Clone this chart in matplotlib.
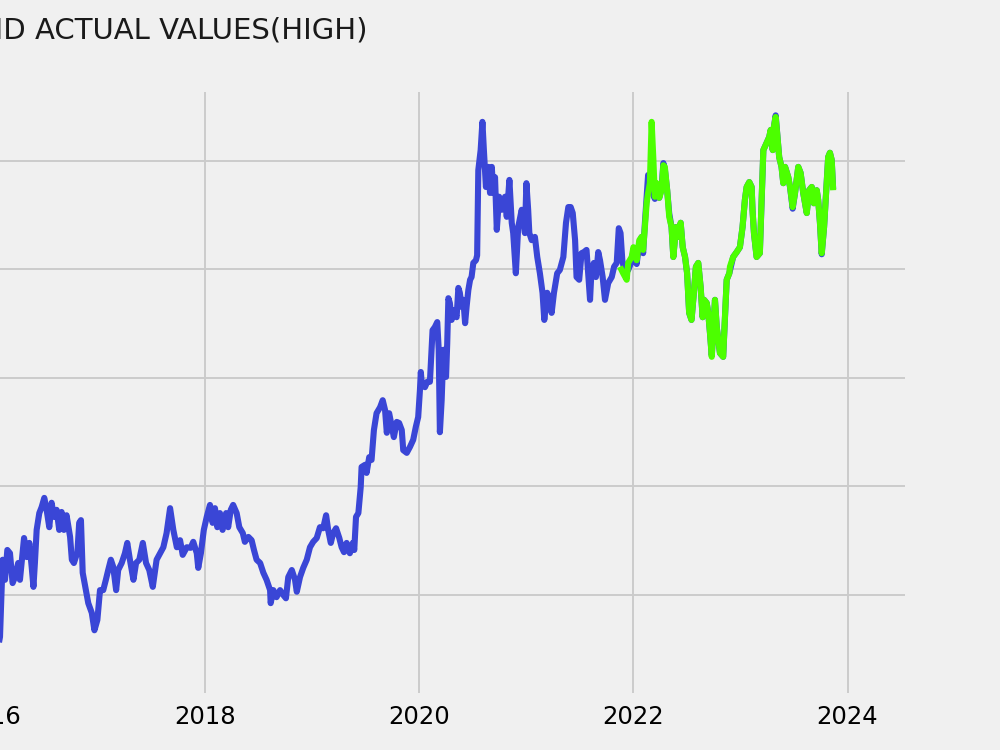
import matplotlib
matplotlib.use("Agg")
import matplotlib.pyplot as plt
import matplotlib.dates as mdates
from matplotlib.ticker import MultipleLocator
import pandas as pd

# ---------------- data ----------------
actual_dates = [
    "2016-01-26", "2016-02-02", "2016-02-11", "2016-02-19", "2016-02-27", "2016-03-07", "2016-03-16", "2016-03-24",
    "2016-04-04", "2016-04-10", "2016-04-24", "2016-05-03", "2016-05-12", "2016-05-20", "2016-05-26", "2016-05-31",
    "2016-06-06", "2016-06-15", "2016-06-23", "2016-07-02", "2016-07-10", "2016-07-19", "2016-07-27", "2016-08-04",
    "2016-08-13", "2016-08-22", "2016-08-30", "2016-09-07", "2016-09-16", "2016-09-28", "2016-10-04", "2016-10-11",
    "2016-10-23", "2016-10-29", "2016-11-04", "2016-11-10", "2016-11-21", "2016-11-29", "2016-12-11", "2016-12-20",
    "2016-12-30", "2017-01-08", "2017-01-19", "2017-01-28", "2017-02-05", "2017-02-14", "2017-02-22", "2017-03-04",
    "2017-03-11", "2017-03-23", "2017-04-03", "2017-04-11", "2017-04-20", "2017-05-02", "2017-05-11", "2017-05-22",
    "2017-06-03", "2017-06-14", "2017-06-25", "2017-07-07", "2017-07-20", "2017-08-01", "2017-08-12", "2017-08-23",
    "2017-09-04", "2017-09-15", "2017-09-27", "2017-10-08", "2017-10-17", "2017-10-31", "2017-11-13", "2017-11-22",
    "2017-12-04", "2017-12-09", "2017-12-18", "2017-12-28", "2018-01-07", "2018-01-18", "2018-01-27", "2018-02-04",
    "2018-02-12", "2018-02-21", "2018-03-02", "2018-03-14", "2018-03-21", "2018-03-30", "2018-04-07", "2018-04-19",
    "2018-04-28", "2018-05-10", "2018-05-17", "2018-05-29", "2018-06-09", "2018-06-17", "2018-06-26", "2018-07-08",
    "2018-07-19", "2018-07-30", "2018-08-11", "2018-08-13", "2018-08-22", "2018-09-02", "2018-09-14", "2018-09-25",
    "2018-10-04", "2018-10-12", "2018-10-24", "2018-11-04", "2018-11-10", "2018-11-21", "2018-12-02", "2018-12-14",
    "2018-12-25", "2019-01-05", "2019-01-17", "2019-01-28", "2019-02-08", "2019-02-18", "2019-02-25", "2019-03-06",
    "2019-03-14", "2019-03-24", "2019-04-04", "2019-04-12", "2019-04-20", "2019-04-29", "2019-05-10", "2019-05-20",
    "2019-05-25", "2019-05-31", "2019-06-08", "2019-06-16", "2019-06-19", "2019-07-01", "2019-07-06", "2019-07-15",
    "2019-07-23", "2019-07-31", "2019-08-09", "2019-08-21", "2019-08-30", "2019-09-07", "2019-09-13", "2019-09-21",
    "2019-09-30", "2019-10-07", "2019-10-17", "2019-10-25", "2019-11-03", "2019-11-08", "2019-11-20", "2019-12-01",
    "2019-12-12", "2019-12-21", "2019-12-29", "2020-01-04", "2020-01-07", "2020-01-10", "2020-01-21", "2020-01-29",
    "2020-02-07", "2020-02-16", "2020-02-24", "2020-03-03", "2020-03-08", "2020-03-12", "2020-03-18", "2020-03-24",
    "2020-04-02", "2020-04-06", "2020-04-10", "2020-04-15", "2020-04-21", "2020-04-27", "2020-05-08", "2020-05-14",
    "2020-05-19", "2020-05-25", "2020-05-31", "2020-06-06", "2020-06-11", "2020-06-17", "2020-06-23", "2020-06-28",
    "2020-07-04", "2020-07-13", "2020-07-17", "2020-07-21", "2020-07-29", "2020-08-04", "2020-08-09", "2020-08-16",
    "2020-08-24", "2020-08-30", "2020-09-05", "2020-09-10", "2020-09-16", "2020-09-22", "2020-09-30", "2020-10-09",
    "2020-10-20", "2020-10-26", "2020-11-04", "2020-11-12", "2020-11-17", "2020-11-26", "2020-12-04", "2020-12-16",
    "2020-12-27", "2021-01-01", "2021-01-07", "2021-01-11", "2021-01-19", "2021-01-30", "2021-02-07", "2021-02-16",
    "2021-02-25", "2021-03-03", "2021-03-13", "2021-03-22", "2021-03-28", "2021-04-05", "2021-04-16", "2021-04-25",
    "2021-05-07", "2021-05-16", "2021-05-24", "2021-06-01", "2021-06-08", "2021-06-16", "2021-06-21", "2021-06-30",
    "2021-07-08", "2021-07-16", "2021-07-25", "2021-08-06", "2021-08-11", "2021-08-19", "2021-08-26", "2021-09-03",
    "2021-09-09", "2021-09-18", "2021-09-26", "2021-10-07", "2021-10-19", "2021-10-27", "2021-11-05", "2021-11-12",
    "2021-11-18", "2021-11-24", "2021-12-03", "2021-12-14", "2021-12-26", "2022-01-01", "2022-01-12", "2022-01-21",
    "2022-01-29", "2022-02-03", "2022-02-09", "2022-02-15", "2022-02-20", "2022-02-26", "2022-03-04", "2022-03-10",
    "2022-03-15", "2022-03-21", "2022-03-30", "2022-04-07", "2022-04-13", "2022-04-18", "2022-04-26", "2022-05-03",
    "2022-05-11", "2022-05-17", "2022-05-26", "2022-06-03", "2022-06-11", "2022-06-18", "2022-06-26", "2022-07-03",
    "2022-07-10", "2022-07-18", "2022-07-26", "2022-08-02", "2022-08-10", "2022-08-18", "2022-08-25", "2022-08-30",
    "2022-09-08", "2022-09-13", "2022-09-19", "2022-09-25", "2022-09-30", "2022-10-06", "2022-10-12", "2022-10-23",
    "2022-11-03", "2022-11-09", "2022-11-15", "2022-11-24", "2022-12-07", "2022-12-19", "2022-12-30", "2023-01-08",
    "2023-01-16", "2023-01-22", "2023-01-31", "2023-02-08", "2023-02-11", "2023-02-16", "2023-02-25", "2023-03-08",
    "2023-03-14", "2023-03-20", "2023-03-31", "2023-04-09", "2023-04-14", "2023-04-21", "2023-04-25", "2023-05-01",
    "2023-05-06", "2023-05-13", "2023-05-21", "2023-05-27", "2023-06-02", "2023-06-13", "2023-06-19", "2023-06-28",
    "2023-07-06", "2023-07-17", "2023-07-25", "2023-08-03", "2023-08-15", "2023-08-23", "2023-09-01", "2023-09-08",
    "2023-09-18", "2023-09-23", "2023-09-29", "2023-10-05", "2023-10-13", "2023-10-22", "2023-10-27", "2023-11-02",
    "2023-11-08", "2023-11-13",
]
actual_high = [
    10.2, 12.3, 26.5, 22.8, 28.3, 27.7, 22.2, 23.3,
    25.9, 22.8, 30.5, 27.0, 29.6, 25.2, 21.5, 25.9,
    32.0, 35.1, 36.2, 37.9, 35.7, 32.5, 37.0, 34.4,
    35.7, 32.0, 35.3, 32.0, 34.7, 30.7, 26.5, 25.9,
    27.9, 33.3, 33.8, 24.1, 20.9, 18.5, 16.7, 13.5,
    15.4, 20.9, 20.9, 22.8, 24.6, 26.5, 25.2, 20.9,
    24.6, 25.9, 27.7, 29.6, 26.5, 22.8, 25.9, 26.5,
    29.6, 25.9, 24.6, 21.5, 26.5, 27.7, 28.8, 31.4,
    36.0, 32.0, 28.8, 30.1, 27.4, 28.8, 28.7, 29.8,
    27.7, 25.0, 27.7, 32.0, 34.4, 36.6, 33.3, 36.0,
    32.5, 35.1, 32.0, 35.1, 32.5, 35.7, 36.6, 35.1,
    32.5, 31.4, 29.8, 30.7, 30.1, 28.3, 26.5, 25.9,
    24.1, 22.8, 20.9, 18.5, 20.9, 19.6, 20.9, 20.0,
    19.4, 23.3, 24.6, 22.8, 20.6, 23.3, 25.0, 26.5,
    28.8, 29.8, 30.5, 32.5, 32.3, 34.7, 32.0, 29.6,
    31.4, 32.3, 30.5, 28.8, 27.9, 29.6, 27.7, 29.6,
    28.3, 34.4, 35.1, 39.9, 43.6, 44.0, 42.5, 45.4,
    44.9, 50.4, 53.5, 54.6, 55.9, 54.1, 49.9, 53.5,
    51.0, 49.1, 51.9, 51.7, 50.4, 46.7, 46.2, 47.3,
    48.6, 51.0, 52.8, 57.8, 61.1, 59.1, 58.3, 59.3,
    59.3, 68.8, 69.4, 70.3, 65.2, 50.0, 55.9, 65.2,
    60.2, 66.4, 74.7, 73.8, 70.7, 72.5, 71.2, 76.6,
    75.7, 73.1, 74.4, 70.1, 73.1, 76.2, 78.1, 78.6,
    81.2, 81.7, 82.6, 98.3, 102.0, 107.2, 102.0, 95.2,
    98.9, 94.1, 98.9, 94.1, 97.0, 87.3, 93.4, 91.0,
    93.4, 89.7, 96.5, 88.6, 86.7, 79.3, 87.8, 91.0,
    86.7, 95.9, 91.0, 86.7, 85.4, 86.0, 82.3, 79.3,
    75.7, 70.7, 75.7, 74.4, 72.0, 75.7, 79.3, 79.9,
    82.3, 88.6, 91.5, 91.5, 90.4, 85.4, 78.6, 78.1,
    83.0, 83.2, 83.6, 74.4, 79.9, 81.2, 78.6, 83.2,
    81.7, 78.6, 74.4, 77.5, 78.6, 80.5, 81.2, 87.6,
    86.7, 81.7, 79.3, 79.9, 81.5, 83.5, 81.0, 85.0,
    86.0, 83.0, 88.5, 93.5, 97.4, 95.6, 95.0, 93.7,
    93.0, 95.5, 93.2, 95.0, 99.6, 98.5, 94.6, 90.3,
    87.8, 82.3, 87.8, 86.0, 88.6, 84.1, 82.3, 79.3,
    72.0, 70.7, 75.7, 80.5, 81.2, 76.8, 71.2, 74.4,
    73.8, 72.0, 68.3, 64.2, 68.3, 74.4, 69.4, 64.6,
    63.9, 71.2, 78.1, 79.3, 82.3, 83.2, 84.1, 87.8,
    92.8, 95.2, 96.1, 95.2, 91.0, 86.7, 82.3, 83.0,
    92.8, 102.0, 103.3, 104.4, 105.7, 102.0, 106.3, 108.4,
    105.1, 100.7, 98.9, 95.9, 98.9, 97.0, 95.2, 91.2,
    94.1, 98.9, 97.8, 94.1, 90.4, 94.6, 95.2, 92.2,
    94.6, 92.8, 88.6, 82.8, 87.8, 95.9, 100.7, 101.5,
    100.2, 94.8,
]

predicted_dates = [
    "2021-11-16", "2021-11-27", "2021-12-09", "2021-12-14", "2021-12-26", "2022-01-01", "2022-01-12", "2022-01-21",
    "2022-01-29", "2022-02-03", "2022-02-09", "2022-02-15", "2022-02-20", "2022-02-26", "2022-03-04", "2022-03-10",
    "2022-03-15", "2022-03-21", "2022-03-30", "2022-04-07", "2022-04-13", "2022-04-18", "2022-04-26", "2022-05-03",
    "2022-05-11", "2022-05-17", "2022-05-26", "2022-06-03", "2022-06-11", "2022-06-18", "2022-06-26", "2022-07-03",
    "2022-07-10", "2022-07-18", "2022-07-26", "2022-08-02", "2022-08-10", "2022-08-18", "2022-08-25", "2022-08-30",
    "2022-09-08", "2022-09-13", "2022-09-19", "2022-09-25", "2022-09-30", "2022-10-06", "2022-10-12", "2022-10-23",
    "2022-11-03", "2022-11-09", "2022-11-15", "2022-11-24", "2022-11-26", "2022-12-07", "2022-12-19", "2022-12-30",
    "2023-01-08", "2023-01-16", "2023-01-22", "2023-01-31", "2023-02-08", "2023-02-11", "2023-02-16", "2023-02-25",
    "2023-03-08", "2023-03-14", "2023-03-20", "2023-03-31", "2023-04-09", "2023-04-14", "2023-04-21", "2023-04-25",
    "2023-05-01", "2023-05-06", "2023-05-13", "2023-05-21", "2023-05-27", "2023-06-02", "2023-06-13", "2023-06-19",
    "2023-06-28", "2023-07-06", "2023-07-17", "2023-07-25", "2023-08-03", "2023-08-15", "2023-08-23", "2023-09-01",
    "2023-09-08", "2023-09-18", "2023-09-23", "2023-09-29", "2023-10-05", "2023-10-13", "2023-10-22", "2023-10-27",
    "2023-11-02", "2023-11-08", "2023-11-13",
]
predicted_high = [
    80.5, 79.3, 78.1, 81.2, 82.3, 84.1, 81.7, 85.4,
    86.0, 83.6, 87.8, 92.2, 94.1, 95.9, 107.2, 100.2,
    93.4, 95.9, 93.2, 94.6, 99.2, 98.9, 94.6, 89.7,
    87.8, 82.3, 87.8, 86.0, 88.6, 84.1, 82.3, 79.3,
    72.0, 70.7, 75.7, 80.5, 81.2, 76.8, 71.2, 74.4,
    73.8, 72.0, 68.3, 63.9, 68.3, 74.4, 69.4, 64.6,
    63.9, 71.2, 78.1, 79.3, 80.5, 82.3, 83.2, 84.1,
    87.8, 92.8, 95.2, 96.1, 95.2, 91.0, 86.7, 82.3,
    83.0, 92.8, 102.0, 103.3, 104.4, 105.7, 102.0, 106.3,
    108.1, 105.1, 100.7, 98.9, 95.9, 98.9, 97.0, 95.2,
    91.5, 94.1, 98.9, 97.8, 94.1, 90.4, 94.6, 95.2,
    92.2, 94.6, 92.8, 88.6, 83.0, 87.8, 95.9, 100.7,
    101.5, 100.2, 94.6,
]

title_text = "PREDICTED AND ACTUAL VALUES(HIGH)"

# ---------------- plot ----------------
plt.style.use("fivethirtyeight")
fig = plt.figure(figsize=(10, 7.5), dpi=100)
fig.patch.set_facecolor("#f0f0f0")

# the visible window shows only the right part of the axes (it extends past the left edge)
ax = fig.add_axes([-0.1, 0.076, 1.005, 0.8013])
ax.set_facecolor("#f0f0f0")

a_d = pd.to_datetime(actual_dates)
p_d = pd.to_datetime(predicted_dates)
ax.plot(a_d, actual_high, color="#3a46d6", linewidth=4.4, solid_joinstyle="round")
ax.plot(p_d, predicted_high, color="#4cff00", linewidth=4.4, solid_joinstyle="round")

ax.set_xlim(pd.Timestamp("2015-02-26"), pd.Timestamp("2024-07-15"))
ax.set_ylim(1.94, 112.7)
ax.yaxis.set_major_locator(MultipleLocator(20))
ax.xaxis.set_major_locator(mdates.YearLocator(2))
ax.xaxis.set_major_formatter(mdates.DateFormatter("%Y"))
ax.grid(True, color="#cbcbcb", linewidth=1.4)
ax.tick_params(axis="x", labelsize=17.5, pad=9, length=0)
ax.tick_params(axis="y", labelsize=17.5, length=0)
for s in ax.spines.values():
    s.set_visible(False)

fig.text(0.368, 1 - 38 / 750, title_text, ha="right", va="baseline",
         fontsize=21, color="#1a1a1a")

fig.savefig("out.png", dpi=100, facecolor=fig.get_facecolor())
